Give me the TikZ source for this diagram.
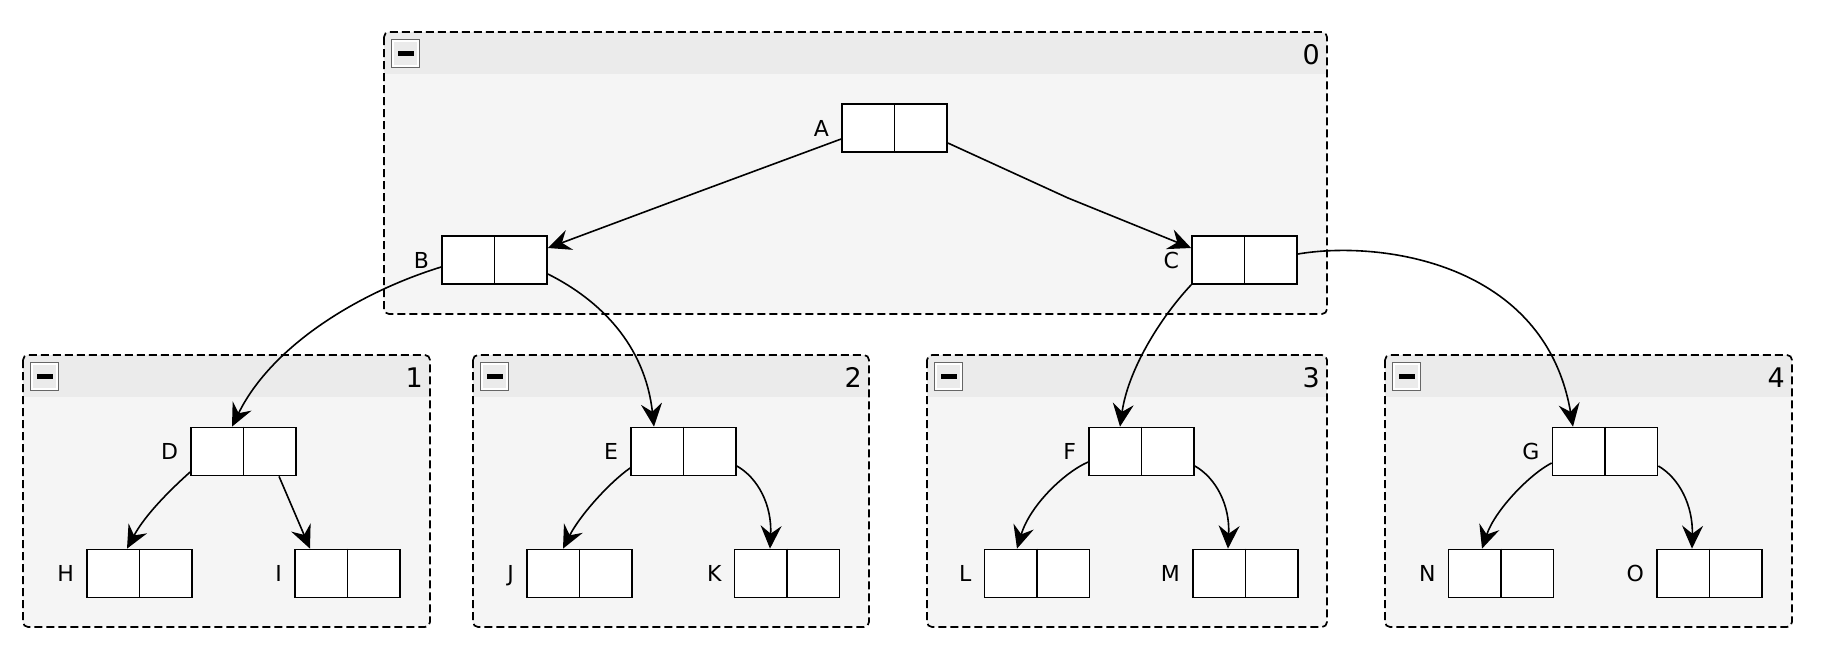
\documentclass[tikz,border=0pt]{standalone}
\usepackage{fontspec}
\setmainfont{DejaVu Sans}
\usetikzlibrary{arrows.meta}
\definecolor{grpfill}{HTML}{F5F5F5}
\definecolor{grphead}{HTML}{EBEBEB}
\definecolor{btngray}{HTML}{666666}
\tikzset{
  grpborder/.style={draw=black, dash pattern=on 8pt off 4pt, line width=1.7pt, rounded corners=5pt},
  grpnum/.style={font=\fontsize{27}{30}\selectfont, inner sep=0pt, anchor=base east},
  lbl/.style={font=\fontsize{22}{24}\selectfont, inner sep=0pt, anchor=base east},
  cellbox/.style={draw=black, fill=white, line width=1.7pt, minimum width=105pt, minimum height=48pt, inner sep=0pt},
  minusbtn/.style={draw=btngray, line width=1.8pt, fill=grphead, minimum size=28pt, inner sep=0pt},
  arr/.style={draw=black, line width=1.6pt, -{Stealth[length=23pt, width=21pt, inset=8pt]}}
}
\newcommand\mkgroup[6]{%
  \begin{scope}
    \clip[rounded corners=5pt] (#1,#2) rectangle (#3,#4);
    \fill[grpfill] (#1,#2) rectangle (#3,#4);
    \fill[grphead] (#1,#2) rectangle (#3,#2+42);
  \end{scope}
  \draw[grpborder] (#1,#2) rectangle (#3,#4);
  \node[grpnum] (#6num) at (#3-7,#2+32.5) {#5};
  \node[minusbtn] (#6btn) at (#1+21.5,#2+21.5) {};
  \draw[white, line width=1.4pt] ([shift={(2.4pt,-2.4pt)}]#6btn.north west) rectangle ([shift={(-2.4pt,2.4pt)}]#6btn.south east);
  \fill[black] ([shift={(-8pt,-2.5pt)}]#6btn.center) rectangle ([shift={(8pt,2.5pt)}]#6btn.center);
}
\newcommand\mkcell[4]{%
  \node[cellbox] (#1) at (#2,#3) {};
  \draw[line width=1.7pt] (#1.north) -- (#1.south);
  \node[lbl] (#1lab) at ([xshift=-12pt,yshift=-8pt]#1.west) {#4};
}
\begin{document}
\begin{tikzpicture}[x=1pt,y=-1pt]
\useasboundingbox (0,0) rectangle (1824,654);
\fill[white] (0,0) rectangle (1824,654);

\mkgroup{384}{32}{1327}{314}{0}{g0}
\mkgroup{23}{355}{430}{627}{1}{g1}
\mkgroup{473}{355}{869}{627}{2}{g2}
\mkgroup{927}{355}{1327}{627}{3}{g3}
\mkgroup{1385}{355}{1792}{627}{4}{g4}

\mkcell{A}{894.5}{128}{A}
\mkcell{B}{494.5}{260}{B}
\mkcell{C}{1244.5}{260}{C}
\mkcell{D}{243.5}{451.5}{D}
\mkcell{E}{683.5}{451.5}{E}
\mkcell{F}{1141.5}{451.5}{F}
\mkcell{G}{1605}{451.5}{G}
\mkcell{H}{139.5}{573.5}{H}
\mkcell{I}{347.5}{573.5}{I}
\mkcell{J}{579.5}{573.5}{J}
\mkcell{K}{787}{573.5}{K}
\mkcell{L}{1037}{573.5}{L}
\mkcell{M}{1245.5}{573.5}{M}
\mkcell{N}{1501}{573.5}{N}
\mkcell{O}{1709.5}{573.5}{O}

% top level
\draw[arr] ([yshift=-11pt]A.west) -- (698,192) -- ([yshift=12pt]B.east);
\draw[arr] ([yshift=-15pt]A.east) -- (1068,198) -- ([yshift=12pt]C.west);
% B children
\draw[arr] ([yshift=-7pt]B.west) .. controls (360,292) and (272,345) .. ([xshift=-11.5pt]D.north);
\draw[arr] ([yshift=-14pt]B.east) .. controls (600,300) and (645,345) .. ([xshift=-29.5pt]E.north);
% C children
\draw[arr] (C.south west) .. controls (1160,318) and (1128,370) .. ([xshift=-21.5pt]F.north);
\draw[arr] ([yshift=6pt]C.east) .. controls (1380,240) and (1545,262) .. ([xshift=-32pt]G.north);
% D children
\draw[arr] ([yshift=-20.5pt]D.west) .. controls (170,490) and (145,515) .. ([xshift=-12.5pt]H.north);
\draw[arr] ([xshift=35.5pt]D.south) -- ([xshift=-37.5pt]I.north);
% E children
\draw[arr] ([yshift=-16.5pt]E.west) .. controls (610,482) and (580,515) .. ([xshift=-16.5pt]J.north);
\draw[arr] ([yshift=-14.5pt]E.east) .. controls (758,478) and (772,505) .. ([xshift=-17pt]K.north);
% F children
\draw[arr] ([yshift=-10.5pt]F.west) .. controls (1065,472) and (1030,505) .. ([xshift=-20pt]L.north);
\draw[arr] ([yshift=-14.5pt]F.east) .. controls (1216,478) and (1230,505) .. ([xshift=-17.5pt]M.north);
% G children
\draw[arr] ([yshift=-11.5pt]G.west) .. controls (1530,474) and (1495,510) .. ([xshift=-19pt]N.north);
\draw[arr] ([yshift=-14.5pt]G.east) .. controls (1679,478) and (1693,505) .. ([xshift=-17.5pt]O.north);
\end{tikzpicture}
\end{document}
